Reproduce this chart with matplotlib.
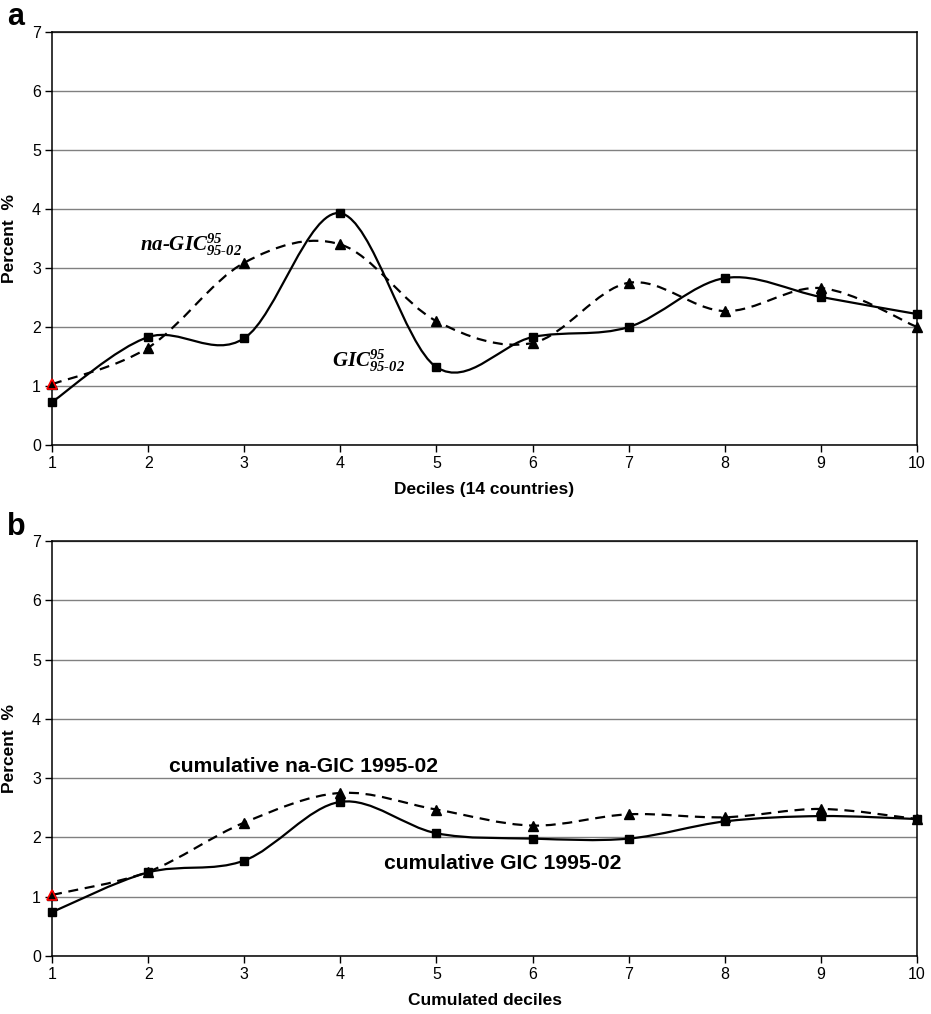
import numpy as np
import matplotlib
matplotlib.use("Agg")
import matplotlib.pyplot as plt
from matplotlib.path import Path
from matplotlib.patches import PathPatch

plt.rcParams['font.family'] = ['Liberation Sans', 'DejaVu Sans']
plt.rcParams['mathtext.fontset'] = 'custom'
plt.rcParams['mathtext.rm'] = 'Liberation Serif:bold:italic'
plt.rcParams['mathtext.it'] = 'Liberation Serif:bold:italic'
plt.rcParams['mathtext.bf'] = 'Liberation Serif:bold:italic'

# data
deciles = [1, 2, 3, 4, 5, 6, 7, 8, 9, 10]
gic_a = [0.73, 1.83, 1.81, 3.93, 1.32, 1.83, 2.00, 2.83, 2.51, 2.22]
nagic_a = [1.03, 1.65, 3.09, 3.40, 2.10, 1.73, 2.75, 2.27, 2.66, 2.00]
gic_b = [0.74, 1.41, 1.61, 2.60, 2.07, 1.98, 1.98, 2.27, 2.36, 2.31]
nagic_b = [1.03, 1.42, 2.25, 2.75, 2.47, 2.20, 2.39, 2.34, 2.48, 2.31]
yticks = [0, 1, 2, 3, 4, 5, 6, 7]


def smooth_path(x, y, t=1/6.):
    # excel-like smoothed line (catmull-rom as cubic bezier)
    p = np.column_stack([x, y]).astype(float)
    n = len(p)
    verts = [p[0]]
    codes = [Path.MOVETO]
    for i in range(n - 1):
        p0 = p[i - 1] if i > 0 else p[i]
        p3 = p[i + 2] if i + 2 < n else p[i + 1]
        c1 = p[i] + (p[i + 1] - p0) * t
        c2 = p[i + 1] - (p3 - p[i]) * t
        verts += [c1, c2, p[i + 1]]
        codes += [Path.CURVE4] * 3
    return Path(verts, codes)


def draw_series(ax, y, dashed, marker):
    ls = (0, (4.5, 3)) if dashed else '-'
    patch = PathPatch(smooth_path(deciles, y), fill=False, edgecolor='black',
                      lw=1.6, linestyle=ls, zorder=3)
    ax.add_patch(patch)
    ax.plot(deciles, y, linestyle='none', marker=marker, color='black',
            markersize=6 if marker == 's' else 6.5, zorder=4, clip_on=False)


def style_axes(ax, xlabel):
    ax.set_xlim(1, 10)
    ax.set_ylim(0, 7)
    ax.set_xticks(deciles)
    ax.set_yticks(yticks)
    ax.yaxis.grid(True, color='#808080', lw=1)
    ax.set_axisbelow(True)
    for s in ax.spines.values():
        s.set_color('black')
        s.set_linewidth(1.1)
    ax.tick_params(direction='out', length=5, width=1, labelsize=11.5, pad=3)
    ax.set_xlabel(xlabel, fontsize=12.5, fontweight='bold', labelpad=8)
    ax.set_ylabel('Percent  %', fontsize=12.5, fontweight='bold')
    ax.yaxis.set_label_coords(-0.041, 0.5)


fig = plt.figure(figsize=(9.31, 10.14), dpi=100)
ax1 = fig.add_axes([0.0559, 0.5611, 0.9291, 0.4073])
ax2 = fig.add_axes([0.0559, 0.0572, 0.9291, 0.4093])

# panel a
draw_series(ax1, nagic_a, True, '^')
draw_series(ax1, gic_a, False, 's')
ax1.plot(deciles[0], nagic_a[0], marker='^', markersize=6.5, mfc='black',
         mec='red', mew=1.2, linestyle='none', zorder=5, clip_on=False)
style_axes(ax1, 'Deciles (14 countries)')
ax1.text(1.91, 3.30, r'na-GIC$^{95}_{95\text{-}02}$', fontsize=15,
         family='Liberation Serif', fontweight='bold', style='italic', va='baseline')
ax1.text(3.91, 1.32, r'GIC$^{95}_{95\text{-}02}$', fontsize=15,
         family='Liberation Serif', fontweight='bold', style='italic', va='baseline')

# panel b
draw_series(ax2, nagic_b, True, '^')
draw_series(ax2, gic_b, False, 's')
ax2.plot(deciles[0], nagic_b[0], marker='^', markersize=6.5, mfc='black',
         mec='red', mew=1.2, linestyle='none', zorder=5, clip_on=False)
style_axes(ax2, 'Cumulated deciles')
ax2.text(2.22, 3.10, 'cumulative na-GIC 1995-02', fontsize=15.2,
         fontweight='bold', va='baseline')
ax2.text(4.45, 1.47, 'cumulative GIC 1995-02', fontsize=15.2,
         fontweight='bold', va='baseline')

fig.text(0.008, 1 - 17 / 1014, 'a', fontsize=22, fontweight='bold', va='center')
fig.text(0.008, 1 - 527 / 1014, 'b', fontsize=22, fontweight='bold', va='center')

fig.savefig('out.png', dpi=100)
